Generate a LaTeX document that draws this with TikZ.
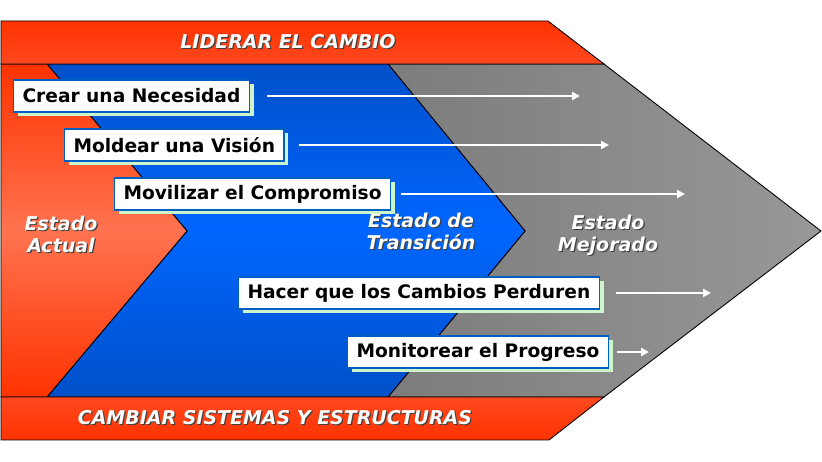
\documentclass[tikz,border=0pt]{standalone}
\usepackage{fontspec}
\setmainfont{DejaVu Sans}
\usetikzlibrary{arrows.meta, positioning, shadows}
\definecolor{rojo}{RGB}{255,51,0}
\definecolor{rojob}{RGB}{255,72,32}
\definecolor{naranja}{RGB}{255,115,80}
\definecolor{azul}{RGB}{0,80,200}
\definecolor{azulclaro}{RGB}{0,102,255}
\definecolor{grisosc}{RGB}{124,124,124}
\definecolor{griscla}{RGB}{152,152,152}
\definecolor{verde}{RGB}{204,245,204}
\definecolor{borde}{RGB}{0,96,192}
\newcommand*{\tam}{\fontsize{10.6}{12.6}\selectfont}
\newcommand*{\tamt}{\fontsize{10.8}{12.6}\selectfont}
\newcommand*{\conSombra}[1]{\makebox[0pt][l]{\kern0.7pt\raisebox{-0.7pt}{\color{black!75}#1}}#1}
\tikzstyle{region} = [draw=black, line width=0.5pt]
\tikzstyle{band} = [region]
\tikzstyle{action} = [draw=borde, fill=white, line width=0.6pt, anchor=west, minimum height=0.64cm, inner xsep=0.18cm, font=\tam\bfseries, drop shadow={shadow xshift=0.09cm, shadow yshift=-0.09cm, fill=verde, opacity=1}]
\tikzstyle{title} = [text=white, font=\tamt\bfseries\itshape]
\tikzstyle{stage} = [title, align=center]
\tikzstyle{arrow} = [-{Triangle[length=4.5pt, width=4.5pt]}, white, line width=1.3pt]

\begin{document}
\begin{tikzpicture}[x=0.02cm, y=-0.02cm]
    \useasboundingbox (0,0) rectangle (822,462);

    % Background.
    \draw [region, left color=grisosc, right color=griscla] (388,64) -- (604,64) -- (821,231) -- (604,397) -- (388,397) -- (525,231) -- cycle;
    \draw [region, top color=azul, bottom color=azul, middle color=azulclaro] (47,64) -- (388,64) -- (525,231) -- (388,397) -- (47,397) -- (187,231) -- cycle;
    \draw [region, top color=rojo, bottom color=rojo, middle color=naranja] (1,64) -- (47,64) -- (187,231) -- (47,397) -- (1,397) -- cycle;
    \draw [band, top color=rojo, bottom color=rojob] (1,21) -- (548,21) -- (604,64) -- (1,64) -- cycle;
    \draw [band, top color=rojob, bottom color=rojo] (1,397) -- (604,397) -- (549,440) -- (1,440) -- cycle;

    \node (lider) [title] at (288,42) {\conSombra{LIDERAR EL CAMBIO}};
    \node (sistemas) [title] at (275,418) {\conSombra{CAMBIAR SISTEMAS Y ESTRUCTURAS}};
    \node (actual) [stage] at (61,235) {\conSombra{Estado}\\\conSombra{Actual}};
    \node (transicion) [stage] at (421,232) {\conSombra{Estado de}\\\conSombra{Transición}};
    \node (mejorado) [stage] at (608,236) {\conSombra{Estado}\\\conSombra{Mejorado}};

    \node (necesidad) [action] at (13,96) {Crear una Necesidad};
    \node (vision) [action] at (64,145) {Moldear una Visión};
    \node (compromiso) [action] at (114,194) {Movilizar el Compromiso};
    \node (perduren) [action] at (238,293) {Hacer que los Cambios Perduren};
    \node (progreso) [action] at (347,352) {Monitorear el Progreso};

    \coordinate (fin necesidad) at (580,96);
    \coordinate (fin vision) at (609,145);
    \coordinate (fin compromiso) at (685,194);
    \coordinate (fin perduren) at (711,293);
    \coordinate (fin progreso) at (649,352);

    % Arrows.
    \draw [arrow, shorten <=10pt] (necesidad) -- (fin necesidad);
    \draw [arrow, shorten <=8pt] (vision) -- (fin vision);
    \draw [arrow, shorten <=5.5pt] (compromiso) -- (fin compromiso);
    \draw [arrow, shorten <=9pt] (perduren) -- (fin perduren);
    \draw [arrow, shorten <=4.5pt] (progreso) -- (fin progreso);
\end{tikzpicture}
\end{document}
